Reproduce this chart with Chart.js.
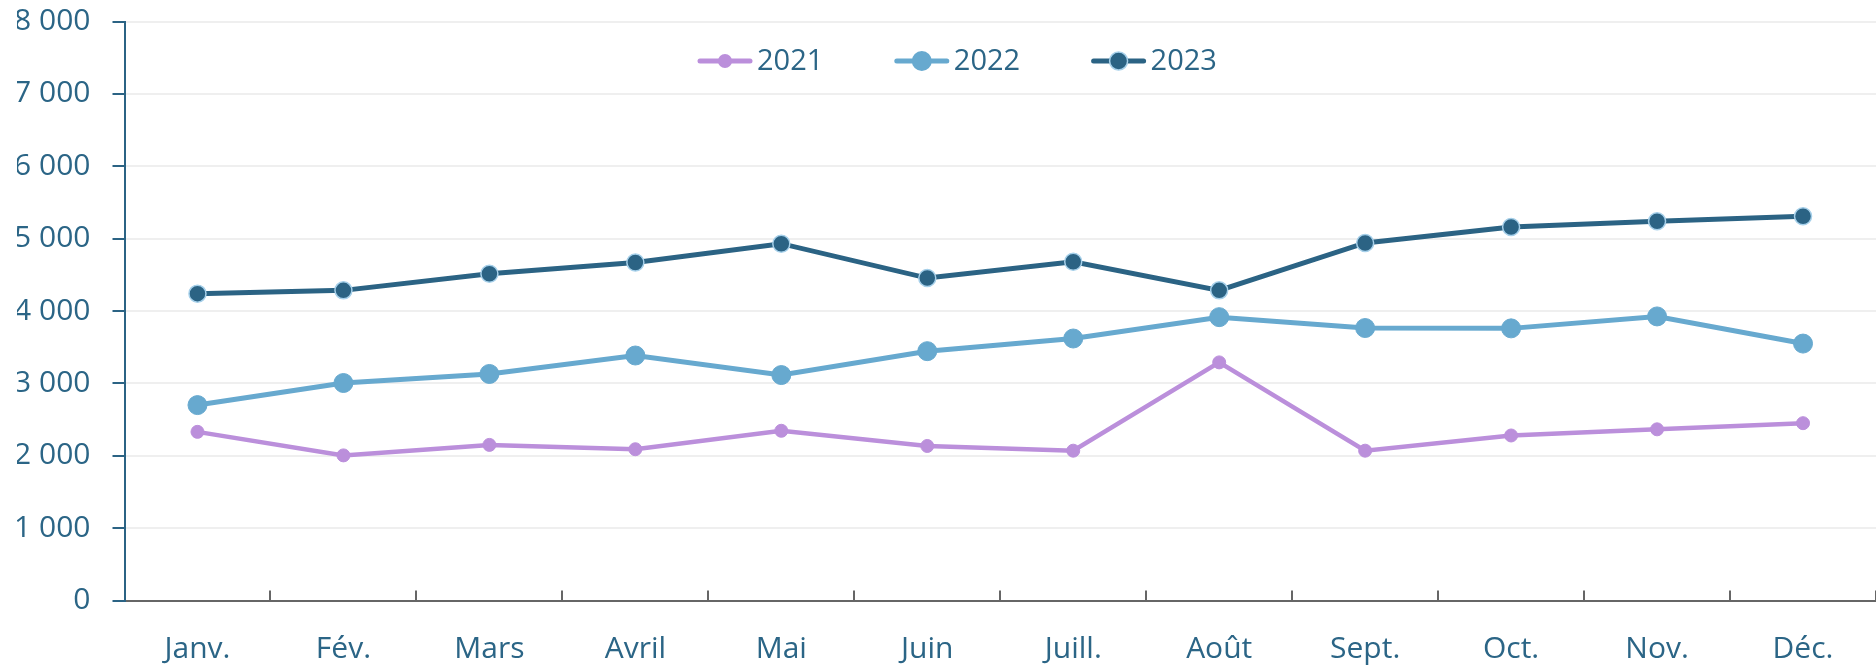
<!DOCTYPE html>
<html lang="fr">
<head>
<meta charset="utf-8">
<title>Évolution mensuelle 2021-2023</title>
<script src="https://cdn.jsdelivr.net/npm/chart.js@4.4.1/dist/chart.umd.min.js"></script>
<style>
  html, body { margin: 0; padding: 0; background: #ffffff; }
  #graphique { display: block; }
</style>
</head>
<body>
<canvas id="graphique" width="1876" height="666"></canvas>
<script>
// données
const mois = ["Janv.", "Fév.", "Mars", "Avril", "Mai", "Juin", "Juill.", "Août", "Sept.", "Oct.", "Nov.", "Déc."];
const annees = ["2021", "2022", "2023"];
const valeurs2021 = [2330, 2005, 2150, 2090, 2345, 2135, 2070, 3290, 2070, 2280, 2365, 2450];
const valeurs2022 = [2700, 3005, 3130, 3385, 3115, 3445, 3620, 3915, 3765, 3760, 3925, 3550];
const valeurs2023 = [4240, 4285, 4515, 4670, 4930, 4455, 4680, 4285, 4940, 5160, 5240, 5310];
const graduations = [0, 1000, 2000, 3000, 4000, 5000, 6000, 7000, 8000];

const couleurTexte = "#2b6586";
const couleurs = ["#bb8fdb", "#67a9cf", "#2b6384"];
const bordureClaire = "#a6d0ea";

function formaterMillier(v) {
  return v.toString().replace(/\B(?=(\d{3})+(?!\d))/g, " ");
}

// petits traits vers le haut sur l'axe des mois
const traitsMois = {
  id: "traitsMois",
  afterDraw(chart) {
    const x = chart.scales.x;
    const ctx = chart.ctx;
    const bas = chart.chartArea.bottom;
    const largeur = x.getPixelForValue(1) - x.getPixelForValue(0);
    ctx.save();
    ctx.strokeStyle = "#666666";
    ctx.lineWidth = 2;
    for (let i = 1; i <= mois.length; i++) {
      const pos = Math.round(x.getPixelForValue(i - 1) + largeur / 2);
      ctx.beginPath();
      ctx.moveTo(pos, bas - 10);
      ctx.lineTo(pos, bas);
      ctx.stroke();
    }
    ctx.restore();
  }
};

// légende placée dans la zone du graphique
const legendeInterne = {
  id: "legendeInterne",
  afterDraw(chart) {
    const ctx = chart.ctx;
    const y = 61;
    ctx.save();
    chart.data.datasets.forEach((ds, i) => {
      const x0 = 697 + i * 196.8;
      ctx.strokeStyle = ds.borderColor;
      ctx.lineWidth = 5;
      ctx.lineCap = "round";
      ctx.beginPath();
      ctx.moveTo(x0 + 3, y);
      ctx.lineTo(x0 + 53, y);
      ctx.stroke();

      ctx.beginPath();
      ctx.arc(x0 + 28, y, ds.pointRadius + 0.5, 0, Math.PI * 2);
      ctx.fillStyle = ds.pointBackgroundColor;
      ctx.fill();
      if (ds.pointBorderColor !== ds.pointBackgroundColor) {
        ctx.lineWidth = ds.pointBorderWidth;
        ctx.strokeStyle = ds.pointBorderColor;
        ctx.stroke();
      }

      ctx.fillStyle = couleurTexte;
      ctx.font = "29px 'Open Sans'";
      ctx.textAlign = "left";
      ctx.textBaseline = "middle";
      ctx.fillText(ds.label, x0 + 60, y + 1);
    });
    ctx.restore();
  }
};

const ctx = document.getElementById("graphique").getContext("2d");

new Chart(ctx, {
  type: "line",
  data: {
    labels: mois,
    datasets: [
      {
        label: annees[0],
        data: valeurs2021,
        borderColor: couleurs[0],
        backgroundColor: couleurs[0],
        pointBackgroundColor: couleurs[0],
        pointBorderColor: couleurs[0],
        pointBorderWidth: 1,
        pointRadius: 6.5,
        borderWidth: 4.5,
        tension: 0
      },
      {
        label: annees[1],
        data: valeurs2022,
        borderColor: couleurs[1],
        backgroundColor: couleurs[1],
        pointBackgroundColor: couleurs[1],
        pointBorderColor: couleurs[1],
        pointBorderWidth: 1,
        pointRadius: 9.5,
        borderWidth: 5,
        tension: 0
      },
      {
        label: annees[2],
        data: valeurs2023,
        borderColor: couleurs[2],
        backgroundColor: couleurs[2],
        pointBackgroundColor: couleurs[2],
        pointBorderColor: bordureClaire,
        pointBorderWidth: 1.5,
        pointRadius: 8.5,
        borderWidth: 5,
        tension: 0
      }
    ]
  },
  options: {
    responsive: false,
    animation: false,
    devicePixelRatio: 1,
    layout: {
      autoPadding: false,
      padding: { top: 21.5, left: 17, right: -4, bottom: 0 }
    },
    plugins: {
      legend: { display: false },
      tooltip: { enabled: false }
    },
    scales: {
      x: {
        offset: true,
        grid: { display: false, drawTicks: false },
        border: { display: true, color: "#666666", width: 2 },
        afterFit(scale) {
          scale.height = 65.5;
          scale.paddingLeft = 0;
          scale.paddingRight = 0;
        },
        ticks: {
          color: couleurTexte,
          padding: 31,
          maxRotation: 0,
          autoSkip: false,
          font: { family: "'Open Sans'", size: 30 }
        }
      },
      y: {
        min: 0,
        max: 8000,
        afterBuildTicks(scale) {
          scale.ticks = graduations.map((v) => ({ value: v }));
        },
        afterFit(scale) {
          scale.width = 107.5;
          scale.paddingTop = 0;
          scale.paddingBottom = 0;
        },
        grid: {
          color: "#efefef",
          lineWidth: 2,
          tickLength: 12,
          tickColor: "#2b6384"
        },
        border: { display: true, color: "#2b6384", width: 2 },
        ticks: {
          color: couleurTexte,
          padding: 22,
          font: { family: "'Open Sans'", size: 30 },
          callback: (v) => formaterMillier(v)
        }
      }
    }
  },
  plugins: [traitsMois, legendeInterne]
});
</script>
</body>
</html>
